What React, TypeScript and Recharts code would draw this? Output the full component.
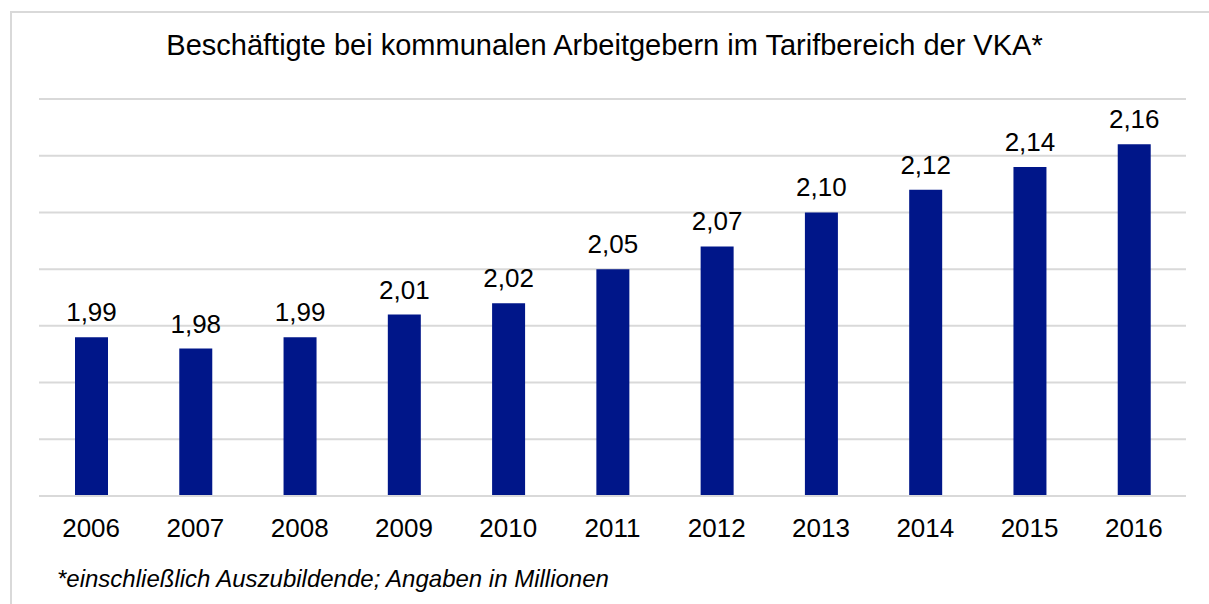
import React from 'react';
import { BarChart, Bar, XAxis, YAxis, CartesianGrid, LabelList } from 'recharts';

const years = ['2006', '2007', '2008', '2009', '2010', '2011', '2012', '2013', '2014', '2015', '2016'];
const employees = [1.99, 1.98, 1.99, 2.01, 2.02, 2.05, 2.07, 2.10, 2.12, 2.14, 2.16];
const yTicks = [1.85, 1.9, 1.95, 2.0, 2.05, 2.1, 2.15, 2.2];

const title = 'Beschäftigte bei kommunalen Arbeitgebern im Tarifbereich der VKA*';
const footnote = '*einschließlich Auszubildende; Angaben in Millionen';

const data = years.map((y, i) => ({ year: y, value: employees[i] }));

const FONT = '"Liberation Sans", Arial, sans-serif';

export default function App() {
  return (
    <div style={{ position: 'absolute', left: 0, top: 0, width: 1209, height: 604, overflow: 'hidden', background: '#fff', fontFamily: FONT }}>
      <div style={{ position: 'absolute', left: 10, top: 11, width: 1400, height: 800, border: '2px solid #d9d9d9', boxSizing: 'border-box' }} />
      <div style={{ position: 'absolute', left: 0, top: 0 }}>
        <BarChart width={1209} height={604} data={data} margin={{ top: 99, right: 23, left: 39, bottom: 0 }}>
          <CartesianGrid horizontal={true} vertical={false} stroke="#d9d9d9" strokeWidth={2} />
          <YAxis hide domain={[1.85, 2.2]} ticks={yTicks} type="number" allowDataOverflow />
          <XAxis
            dataKey="year"
            height={108}
            axisLine={{ stroke: '#d9d9d9', strokeWidth: 2 }}
            tickLine={false}
            tickMargin={17}
            tick={{ fill: '#000', fontSize: 26, fontFamily: FONT }}
            interval={0}
          />
          <Bar dataKey="value" fill="#001689" barSize={33} isAnimationActive={false}>
            <LabelList
              dataKey="value"
              position="top"
              offset={16}
              fill="#000"
              fontSize={26}
              fontFamily={FONT}
              formatter={(v: any) => Number(v).toFixed(2).replace('.', ',')}
            />
          </Bar>
        </BarChart>
      </div>
      <div style={{ position: 'absolute', left: 0, width: 1209, top: 29, textAlign: 'center', fontSize: 29, color: '#000', whiteSpace: 'nowrap' }}>
        {title}
      </div>
      <div style={{ position: 'absolute', left: 57, top: 565, fontSize: 24, fontStyle: 'italic', color: '#000', whiteSpace: 'nowrap' }}>
        {footnote}
      </div>
    </div>
  );
}
